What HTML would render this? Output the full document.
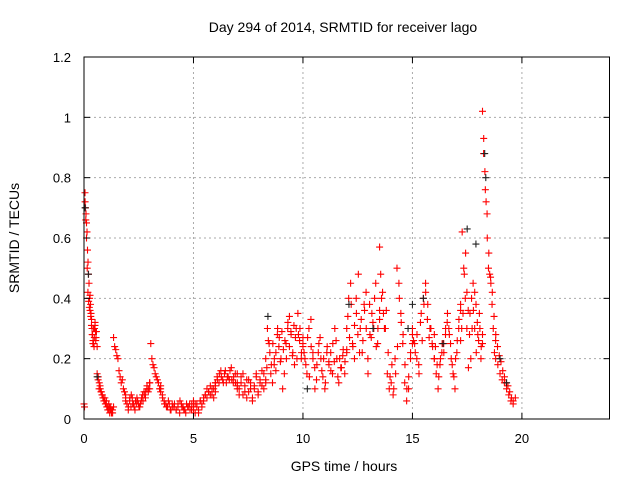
<!DOCTYPE html>
<html><head><meta charset="utf-8"><style>
body{margin:0;background:#fff;}
svg{display:block;font-family:"Liberation Sans",sans-serif;}
</style></head><body>
<svg id="chart" width="640" height="480">
<rect width="640" height="480" fill="#fff"/>
<g id="grid"></g>
<g id="marks"></g>
<rect x="84" y="57" width="525.5" height="362" fill="none" stroke="#000" stroke-width="1"/>
<g id="ticks"></g>
<text x="343" y="32" font-size="14" text-anchor="middle">Day 294 of 2014, SRMTID for receiver lago</text>
<text x="344" y="471" font-size="14" text-anchor="middle">GPS time / hours</text>
<text transform="translate(19,238) rotate(-90)" font-size="14" text-anchor="middle">SRMTID / TECUs</text>
</svg>
<script>
const xTicks=[0,5,10,15,20];
const yTicks=[0,0.2,0.4,0.6,0.8,1,1.2];
const yTickLabels=["0","0.2","0.4","0.6","0.8","1","1.2"];
const segStart=[0,0.6,1.35,1.9,3.0,3.5,5.0,6.0,7.0,8.3,10.0,12.0,13.5,15.0,16.0,17.2,18.2,18.8];
const segEnd=[0.55,1.35,1.9,3.0,3.5,5.0,6.0,7.0,8.3,10.0,12.0,13.5,15.0,16.0,17.2,18.2,18.8,19.7];
const segValues=[
[0.05,0.04,0.75,0.7,0.68,0.65,0.62,0.56,0.52,0.48,0.45,0.4,0.41,0.38,0.35,0.33,0.3,0.28,0.26,0.25,0.24,0.3,0.32,0.29,0.27],
[0.15,0.13,0.1,0.11,0.09,0.08,0.07,0.06,0.07,0.05,0.04,0.03,0.05,0.02,0.04,0.03,0.02,0.04],
[0.27,0.24,0.23,0.21,0.2,0.16,0.14,0.12,0.13,0.1,0.09,0.08],
[0.06,0.05,0.04,0.07,0.08,0.05,0.04,0.06,0.07,0.05,0.04,0.06,0.08,0.09,0.07,0.1,0.09,0.1],
[0.12,0.25,0.2,0.18,0.17,0.15,0.14,0.13,0.12,0.1,0.11],
[0.09,0.07,0.05,0.04,0.06,0.03,0.05,0.04,0.03,0.05,0.06,0.04,0.03,0.02,0.04,0.05,0.03,0.06],
[0.03,0.05,0.04,0.02,0.06,0.05,0.07,0.08,0.1,0.09,0.08,0.1,0.07,0.09],
[0.11,0.13,0.15,0.14,0.12,0.16,0.14,0.13,0.17,0.12,0.15,0.11],
[0.1,0.08,0.12,0.15,0.09,0.07,0.13,0.1,0.06,0.11,0.14,0.08,0.12,0.16,0.1,0.13],
[0.2,0.3,0.25,0.15,0.12,0.18,0.22,0.3,0.27,0.2,0.1,0.15,0.25,0.3,0.34,0.28,0.22,0.18,0.3,0.35,0.26,0.2,0.24],
[0.25,0.2,0.15,0.3,0.33,0.22,0.1,0.18,0.25,0.2,0.14,0.1,0.22,0.19,0.16,0.25,0.3,0.2,0.12,0.17,0.21,0.15,0.23],
[0.3,0.4,0.45,0.25,0.2,0.35,0.48,0.3,0.22,0.38,0.42,0.15,0.28,0.35,0.3,0.45,0.25,0.33],
[0.57,0.4,0.35,0.3,0.15,0.1,0.12,0.08,0.2,0.5,0.45,0.35,0.25,0.12,0.06,0.1,0.2,0.28],
[0.3,0.25,0.2,0.15,0.35,0.4,0.45,0.38,0.3,0.25,0.28],
[0.2,0.15,0.1,0.18,0.22,0.25,0.3,0.35,0.28,0.2,0.15,0.1,0.22,0.3,0.26],
[0.38,0.62,0.5,0.4,0.3,0.17,0.35,0.4,0.45,0.3,0.22,0.28,0.35,0.2,0.25],
[1.02,0.93,0.82,0.72,0.6,0.5,0.48,0.45,0.38,0.3,0.22,0.26],
[0.2,0.18,0.15,0.13,0.12,0.1,0.08,0.06,0.05,0.07]
];
// second, denser layer of samples
const seg2Start=[0.05,0.65,1.9,3.5,5.0,6.0,7.0,8.35,10.05,12.05,13.55,15.05,16.05,17.25,18.25];
const seg2End=[0.6,1.3,3.0,5.0,6.0,7.0,8.3,10.0,12.0,13.5,15.0,16.0,17.2,18.2,19.6];
const seg2Values=[
[0.72,0.66,0.6,0.5,0.42,0.39,0.37,0.36,0.34,0.31,0.28,0.25,0.3,0.27,0.31,0.26,0.29,0.24],
[0.14,0.12,0.1,0.09,0.08,0.07,0.06,0.05,0.06,0.04,0.03,0.04,0.03,0.02,0.03],
[0.07,0.05,0.03,0.06,0.04,0.07,0.05,0.03,0.05,0.06,0.04,0.05,0.07,0.06,0.08,0.09,0.11,0.1,0.12],
[0.1,0.08,0.06,0.05,0.04,0.05,0.03,0.04,0.05,0.03,0.04,0.02,0.05,0.04,0.03,0.05,0.04,0.03,0.05,0.04],
[0.04,0.02,0.05,0.03,0.06,0.04,0.06,0.08,0.07,0.09,0.11,0.08,0.1,0.12],
[0.12,0.14,0.12,0.16,0.13,0.15,0.12,0.14,0.16,0.13,0.14,0.12,0.15],
[0.12,0.1,0.14,0.08,0.11,0.13,0.09,0.12,0.07,0.1,0.15,0.09,0.13,0.11,0.15,0.12],
[0.17,0.26,0.22,0.18,0.25,0.2,0.16,0.28,0.24,0.19,0.29,0.23,0.26,0.2,0.32,0.24,0.29,0.21,0.31,0.27,0.2,0.28,0.3,0.22,0.27],
[0.22,0.18,0.27,0.14,0.24,0.2,0.17,0.13,0.22,0.27,0.16,0.2,0.12,0.24,0.18,0.22,0.15,0.19,0.26,0.14,0.2,0.17,0.23,0.19,0.22],
[0.34,0.27,0.38,0.24,0.31,0.4,0.28,0.22,0.33,0.26,0.36,0.3,0.2,0.38,0.27,0.32,0.4,0.24,0.3,0.36],
[0.48,0.42,0.3,0.36,0.22,0.14,0.18,0.1,0.15,0.24,0.4,0.32,0.28,0.18,0.1,0.14,0.22,0.25],
[0.26,0.22,0.28,0.18,0.32,0.26,0.38,0.42,0.33,0.27,0.3,0.24,0.2],
[0.24,0.18,0.14,0.2,0.25,0.22,0.28,0.32,0.3,0.25,0.18,0.14,0.2,0.26,0.33,0.36],
[0.3,0.35,0.48,0.55,0.42,0.36,0.28,0.2,0.3,0.36,0.42,0.38,0.32,0.26,0.3,0.24,0.28],
[0.88,0.76,0.68,0.55,0.47,0.42,0.34,0.28,0.24,0.21,0.19,0.16,0.14,0.12,0.11,0.09,0.07,0.06]
];
const blackTimes=[0.05,0.2,0.6,8.4,10.2,12.1,13.2,14.8,15.0,15.5,16.4,17.5,17.9,18.3,18.35,19.0,19.3];
const blackValues=[0.7,0.48,0.14,0.34,0.1,0.38,0.3,0.3,0.38,0.4,0.25,0.63,0.58,0.88,0.8,0.2,0.12];

const X=t=>84+t*(525.5/24);
const Y=v=>419-v*(362/1.2);
const NS="http://www.w3.org/2000/svg";
const grid=document.getElementById('grid'),ticks=document.getElementById('ticks'),marks=document.getElementById('marks');
function mk(tag,attrs,parent){const e=document.createElementNS(NS,tag);for(const k in attrs)e.setAttribute(k,attrs[k]);parent.appendChild(e);return e;}
xTicks.forEach(t=>{
  if(t>0){const g=mk('line',{x1:X(t),x2:X(t),y1:57,y2:419,stroke:'#aaa','stroke-dasharray':'2,3'},grid);
  
  }
  mk('line',{x1:X(t),x2:X(t),y1:419,y2:413,stroke:'#000'},ticks);
  mk('line',{x1:X(t),x2:X(t),y1:57,y2:63,stroke:'#000'},ticks);
  const l=mk('text',{x:X(t),y:443,'font-size':13,'text-anchor':'middle'},ticks);l.textContent=t;
  
  
});
yTicks.forEach((v,i)=>{
  if(v>0&&v<1.2){const g=mk('line',{x1:84,x2:609.5,y1:Y(v),y2:Y(v),stroke:'#aaa','stroke-dasharray':'2,3'},grid);
  
  }
  mk('line',{x1:84,x2:90,y1:Y(v),y2:Y(v),stroke:'#000'},ticks);
  mk('line',{x1:609.5,x2:603.5,y1:Y(v),y2:Y(v),stroke:'#000'},ticks);
  const l=mk('text',{x:71,y:Y(v)+5,'font-size':13,'text-anchor':'end'},ticks);l.textContent=yTickLabels[i];
  
  
});
function plus(t,v,color,name){
  const x=X(t),y=Y(v);
  const p=mk('path',{d:`M${x-3.5},${y}h7M${x},${y-3.5}v7`,stroke:color,'stroke-width':1.1,fill:'none'},marks);
  
  
}
function drawSegs(starts,ends,valsArr){
  valsArr.forEach((vals,s)=>{
    const n=vals.length;
    vals.forEach((v,i)=>{
      const t=starts[s]+(ends[s]-starts[s])*(n>1?i/(n-1):0);
      plus(t,v,'#ff0000','srmtid-point-red');
    });
  });
}
drawSegs(segStart,segEnd,segValues);
drawSegs(seg2Start,seg2End,seg2Values);
blackTimes.forEach((t,i)=>plus(t,blackValues[i],'#222','srmtid-point-black'));
</script>
</body></html>
